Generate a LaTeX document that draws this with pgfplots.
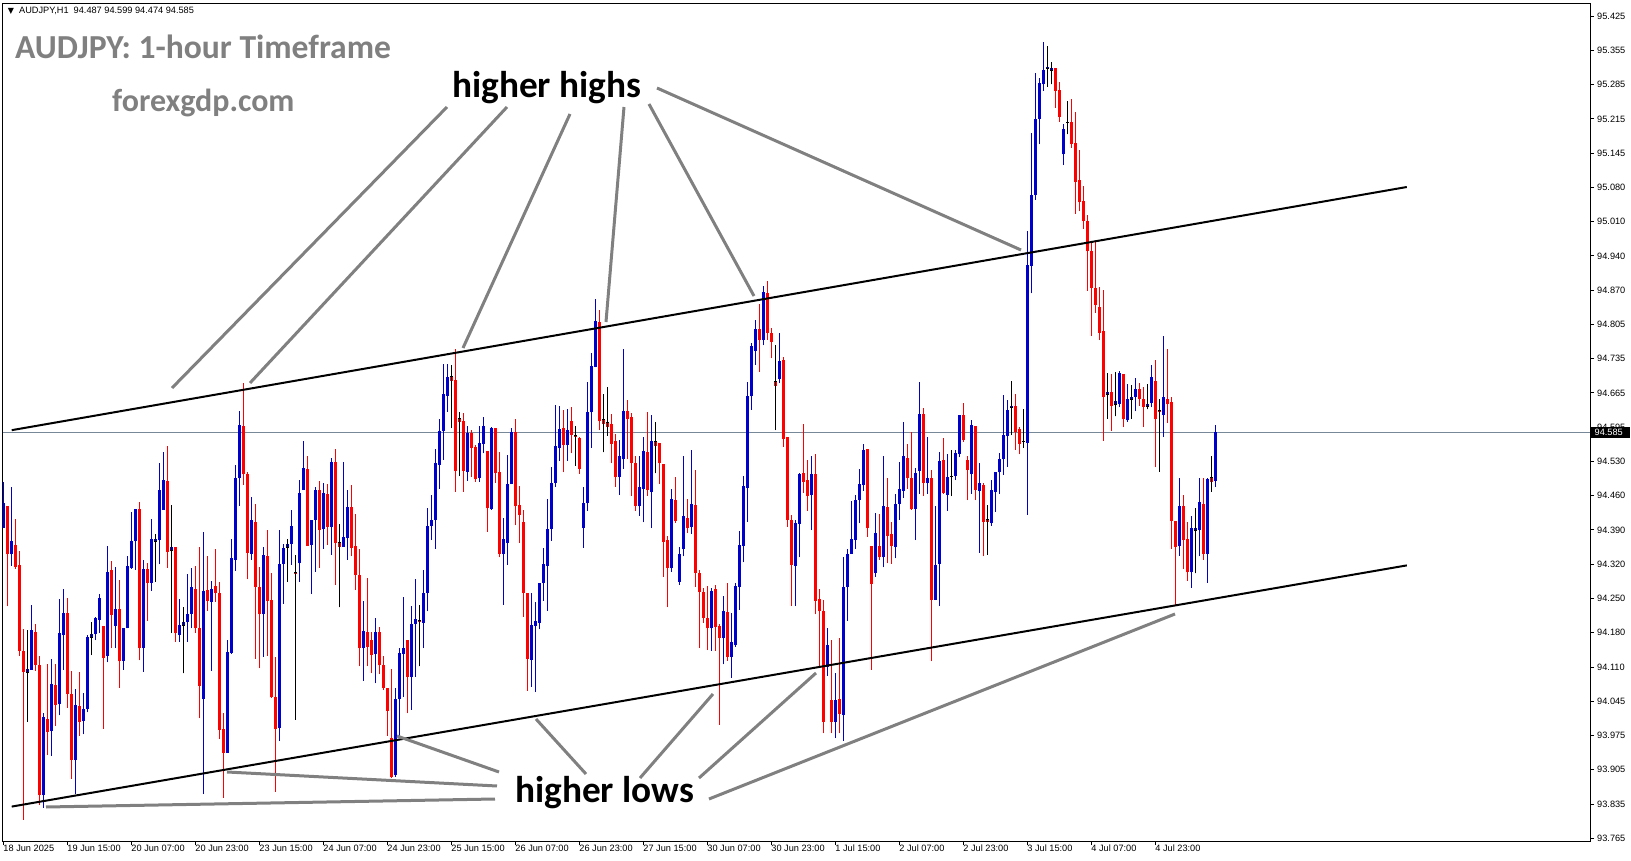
\documentclass[border=0pt]{standalone}
\usepackage{pgfplots}
\pgfplotsset{compat=1.18}
\usepackage{pgfplotstable}
\usepackage{fontspec}
\setmainfont{Liberation Sans}
\newfontfamily\carlito{Carlito}
\newfontfamily\dejavu{DejaVu Sans}
\definecolor{bull}{RGB}{0,0,205}
\definecolor{bear}{RGB}{255,0,0}
\definecolor{note}{RGB}{128,128,128}
\definecolor{askline}{RGB}{119,136,153}

% AUDJPY H1 candles, bar index from 18 Jun 23:00
\pgfplotstableread{
i o h l c
0 94.392 94.485 94.392 94.441
1 94.436 94.436 94.233 94.338
2 94.338 94.474 94.315 94.365
3 94.357 94.410 94.309 94.313
4 94.317 94.345 94.133 94.144
5 94.143 94.188 93.802 94.101
6 94.099 94.186 94.000 94.106
7 94.105 94.236 94.105 94.186
8 94.181 94.198 94.103 94.115
9 94.115 94.133 93.832 93.852
10 93.852 94.017 93.827 94.009
11 94.005 94.117 93.933 93.980
12 93.982 94.126 93.931 94.076
13 94.075 94.117 93.992 94.035
14 94.036 94.248 94.013 94.179
15 94.175 94.268 94.105 94.220
16 94.220 94.250 94.029 94.056
17 94.056 94.103 93.885 93.923
18 93.923 94.066 93.854 94.034
19 94.032 94.100 93.972 94.000
20 94.002 94.058 93.975 94.027
21 94.026 94.176 94.019 94.171
22 94.170 94.201 94.135 94.177
23 94.177 94.212 94.165 94.210
24 94.206 94.258 94.179 94.250
25 94.194 94.194 93.986 94.130
26 94.134 94.355 94.120 94.303
27 94.307 94.325 94.149 94.216
28 94.194 94.313 94.149 94.228
29 94.228 94.287 94.069 94.122
30 94.123 94.190 94.105 94.189
31 94.189 94.334 94.189 94.315
32 94.311 94.424 94.309 94.365
33 94.365 94.430 94.307 94.430
34 94.430 94.444 94.124 94.150
35 94.150 94.327 94.101 94.308
36 94.309 94.320 94.204 94.281
37 94.281 94.410 94.265 94.369
38 94.365 94.379 94.283 94.369
39 94.367 94.522 94.318 94.468
40 94.428 94.544 94.428 94.489
41 94.486 94.558 94.311 94.344
42 94.346 94.438 94.179 94.353
43 94.353 94.353 94.162 94.179
44 94.176 94.248 94.162 94.195
45 94.194 94.231 94.098 94.201
46 94.201 94.299 94.162 94.218
47 94.218 94.310 94.189 94.272
48 94.268 94.315 94.179 94.189
49 94.189 94.354 94.007 94.073
50 94.046 94.383 93.854 94.264
51 94.266 94.334 94.224 94.244
52 94.243 94.285 94.103 94.268
53 94.274 94.350 94.243 94.260
54 94.260 94.283 93.965 93.984
55 93.986 94.017 93.847 93.938
56 93.938 94.165 93.938 94.142
57 94.140 94.369 94.138 94.330
58 94.327 94.519 94.305 94.492
59 94.492 94.628 94.436 94.599
60 94.597 94.685 94.478 94.500
61 94.500 94.504 94.288 94.342
62 94.339 94.455 94.327 94.408
63 94.403 94.439 94.128 94.273
64 94.273 94.313 94.108 94.217
65 94.217 94.354 94.132 94.336
66 94.335 94.387 94.133 94.244
67 94.247 94.300 94.048 94.051
68 94.050 94.132 93.859 93.986
69 93.988 94.387 93.961 94.319
70 94.319 94.360 94.239 94.352
71 94.352 94.369 94.283 94.359
72 94.359 94.428 94.317 94.396
73 94.301 94.337 94.004 94.299
74 94.320 94.488 94.283 94.462
75 94.468 94.567 94.468 94.512
76 94.510 94.536 94.355 94.356
77 94.357 94.408 94.258 94.408
78 94.408 94.475 94.303 94.469
79 94.468 94.486 94.311 94.387
80 94.389 94.482 94.350 94.463
81 94.461 94.480 94.357 94.394
82 94.394 94.532 94.337 94.525
83 94.525 94.552 94.276 94.361
84 94.363 94.400 94.231 94.354
85 94.354 94.525 94.354 94.374
86 94.371 94.468 94.327 94.433
87 94.433 94.478 94.334 94.352
88 94.356 94.419 94.266 94.297
89 94.297 94.350 94.112 94.149
90 94.150 94.244 94.083 94.184
91 94.182 94.290 94.112 94.152
92 94.166 94.182 94.098 94.135
93 94.137 94.209 94.078 94.182
94 94.182 94.192 94.096 94.114
95 94.115 94.133 94.064 94.068
96 94.068 94.069 93.972 94.022
97 93.967 94.107 93.886 93.889
98 93.893 94.068 93.889 94.046
99 94.046 94.149 93.972 94.140
100 94.138 94.253 94.050 94.150
101 94.165 94.165 94.017 94.091
102 94.091 94.233 94.025 94.198
103 94.198 94.289 94.091 94.208
104 94.204 94.236 94.112 94.202
105 94.200 94.307 94.149 94.260
106 94.260 94.431 94.223 94.396
107 94.396 94.458 94.367 94.408
108 94.408 94.552 94.350 94.522
109 94.519 94.612 94.471 94.587
110 94.587 94.723 94.529 94.662
111 94.659 94.723 94.626 94.697
112 94.698 94.721 94.593 94.689
113 94.690 94.752 94.465 94.507
114 94.612 94.625 94.496 94.606
115 94.607 94.623 94.465 94.507
116 94.505 94.598 94.487 94.584
117 94.584 94.589 94.494 94.554
118 94.556 94.559 94.485 94.491
119 94.492 94.598 94.485 94.564
120 94.562 94.616 94.542 94.598
121 94.547 94.547 94.384 94.431
122 94.429 94.596 94.428 94.594
123 94.594 94.594 94.483 94.502
124 94.505 94.544 94.332 94.339
125 94.338 94.411 94.237 94.369
126 94.362 94.539 94.317 94.480
127 94.480 94.594 94.480 94.586
128 94.586 94.612 94.397 94.435
129 94.437 94.476 94.361 94.418
130 94.403 94.427 94.212 94.261
131 94.261 94.261 94.063 94.128
132 94.125 94.260 94.071 94.196
133 94.194 94.243 94.060 94.204
134 94.200 94.280 94.187 94.280
135 94.280 94.352 94.245 94.319
136 94.315 94.450 94.224 94.389
137 94.389 94.515 94.366 94.483
138 94.483 94.640 94.475 94.557
139 94.554 94.638 94.527 94.591
140 94.593 94.630 94.504 94.559
141 94.559 94.631 94.527 94.589
142 94.607 94.636 94.542 94.579
143 94.579 94.598 94.517 94.576
144 94.574 94.576 94.501 94.511
145 94.391 94.475 94.352 94.441
146 94.441 94.686 94.426 94.625
147 94.625 94.744 94.554 94.719
148 94.717 94.854 94.716 94.809
149 94.808 94.832 94.589 94.607
150 94.610 94.663 94.544 94.601
151 94.604 94.677 94.578 94.596
152 94.601 94.621 94.522 94.562
153 94.567 94.581 94.475 94.494
154 94.494 94.569 94.458 94.537
155 94.530 94.752 94.511 94.628
156 94.628 94.650 94.530 94.611
157 94.615 94.623 94.456 94.522
158 94.523 94.537 94.426 94.436
159 94.435 94.536 94.416 94.475
160 94.471 94.576 94.403 94.546
161 94.544 94.625 94.457 94.468
162 94.465 94.620 94.391 94.567
163 94.567 94.606 94.502 94.558
164 94.564 94.564 94.480 94.522
165 94.521 94.521 94.293 94.364
166 94.367 94.376 94.231 94.311
167 94.310 94.471 94.303 94.451
168 94.449 94.494 94.402 94.406
169 94.283 94.354 94.276 94.340
170 94.350 94.537 94.334 94.416
171 94.411 94.451 94.381 94.391
172 94.394 94.549 94.379 94.439
173 94.438 94.509 94.272 94.301
174 94.300 94.307 94.149 94.262
175 94.262 94.271 94.200 94.210
176 94.210 94.274 94.145 94.189
177 94.189 94.270 94.144 94.264
178 94.268 94.276 94.144 94.192
179 94.194 94.197 93.994 94.170
180 94.169 94.255 94.116 94.223
181 94.221 94.281 94.123 94.132
182 94.132 94.219 94.089 94.161
183 94.155 94.281 94.152 94.274
184 94.273 94.386 94.226 94.357
185 94.356 94.496 94.322 94.477
186 94.472 94.687 94.404 94.658
187 94.657 94.766 94.630 94.758
188 94.749 94.811 94.721 94.793
189 94.793 94.844 94.707 94.771
190 94.771 94.880 94.760 94.867
191 94.866 94.890 94.771 94.786
192 94.786 94.796 94.734 94.768
193 94.687 94.761 94.589 94.679
194 94.692 94.786 94.684 94.729
195 94.731 94.737 94.556 94.572
196 94.576 94.576 94.394 94.408
197 94.408 94.418 94.234 94.317
198 94.315 94.408 94.234 94.401
199 94.400 94.502 94.332 94.500
200 94.502 94.601 94.463 94.485
201 94.488 94.529 94.426 94.457
202 94.458 94.536 94.387 94.500
203 94.500 94.540 94.217 94.245
204 94.248 94.268 94.113 94.223
205 94.223 94.246 93.977 94.000
206 94.111 94.189 94.093 94.155
207 94.044 94.165 93.977 94.000
208 94.000 94.098 93.967 94.044
209 94.046 94.169 93.977 94.016
210 94.014 94.332 93.962 94.273
211 94.272 94.350 94.204 94.340
212 94.339 94.445 94.339 94.369
213 94.367 94.458 94.350 94.448
214 94.448 94.511 94.401 94.480
215 94.478 94.562 94.467 94.549
216 94.551 94.551 94.374 94.391
217 94.355 94.355 94.105 94.278
218 94.301 94.421 94.293 94.381
219 94.355 94.420 94.327 94.332
220 94.332 94.536 94.312 94.435
221 94.433 94.492 94.320 94.375
222 94.379 94.404 94.319 94.355
223 94.354 94.461 94.330 94.440
224 94.440 94.525 94.408 94.470
225 94.467 94.605 94.453 94.537
226 94.532 94.562 94.471 94.492
227 94.492 94.586 94.428 94.429
228 94.429 94.512 94.367 94.502
229 94.507 94.686 94.460 94.622
230 94.622 94.633 94.456 94.483
231 94.482 94.576 94.461 94.492
232 94.492 94.509 94.122 94.246
233 94.247 94.435 94.246 94.317
234 94.319 94.544 94.234 94.527
235 94.529 94.573 94.461 94.463
236 94.459 94.540 94.426 94.495
237 94.495 94.549 94.456 94.497
238 94.496 94.548 94.488 94.542
239 94.541 94.620 94.534 94.620
240 94.620 94.643 94.566 94.569
241 94.529 94.537 94.448 94.509
242 94.500 94.610 94.461 94.599
243 94.598 94.598 94.448 94.468
244 94.466 94.522 94.342 94.483
245 94.478 94.482 94.334 94.404
246 94.408 94.437 94.337 94.404
247 94.401 94.488 94.396 94.468
248 94.465 94.505 94.424 94.505
249 94.504 94.542 94.461 94.530
250 94.530 94.661 94.499 94.579
251 94.577 94.650 94.515 94.630
252 94.634 94.688 94.579 94.638
253 94.638 94.663 94.549 94.586
254 94.591 94.596 94.540 94.562
255 94.566 94.632 94.554 94.566
256 94.564 94.991 94.418 94.922
257 94.921 95.190 94.865 95.064
258 95.064 95.310 95.054 95.218
259 95.218 95.301 95.166 95.289
260 95.287 95.372 95.274 95.316
261 95.319 95.364 95.282 95.322
262 95.315 95.332 95.287 95.321
263 95.321 95.321 95.240 95.274
264 95.276 95.292 95.211 95.222
265 95.146 95.207 95.124 95.197
266 95.211 95.254 95.186 95.209
267 95.211 95.258 95.159 95.166
268 95.169 95.232 95.026 95.090
269 95.094 95.155 95.031 95.049
270 95.052 95.082 94.995 95.011
271 95.011 95.023 94.871 94.950
272 94.951 94.968 94.779 94.876
273 94.876 94.968 94.826 94.842
274 94.838 94.879 94.771 94.786
275 94.789 94.872 94.568 94.656
276 94.661 94.705 94.612 94.667
277 94.667 94.703 94.588 94.638
278 94.641 94.706 94.617 94.647
279 94.642 94.708 94.635 94.705
280 94.703 94.703 94.595 94.611
281 94.609 94.683 94.606 94.651
282 94.651 94.681 94.612 94.656
283 94.656 94.695 94.627 94.672
284 94.672 94.685 94.638 94.651
285 94.652 94.676 94.595 94.636
286 94.636 94.683 94.631 94.642
287 94.643 94.721 94.635 94.696
288 94.688 94.731 94.514 94.611
289 94.629 94.651 94.505 94.626
290 94.620 94.779 94.575 94.655
291 94.652 94.753 94.603 94.641
292 94.645 94.655 94.350 94.406
293 94.406 94.406 94.233 94.354
294 94.355 94.492 94.335 94.436
295 94.436 94.459 94.308 94.367
296 94.369 94.404 94.284 94.302
297 94.302 94.416 94.271 94.391
298 94.387 94.431 94.300 94.391
299 94.387 94.492 94.334 94.443
300 94.439 94.493 94.327 94.339
301 94.339 94.492 94.281 94.490
302 94.493 94.537 94.465 94.485
303 94.487 94.599 94.474 94.585
}\candles

\pgfplotsset{
  up/.style={x filter/.expression={\thisrow{c}>\thisrow{o} ? x : nan}},
  down/.style={x filter/.expression={\thisrow{c}<\thisrow{o} ? x : nan}},
  flat/.style={x filter/.expression={\thisrow{c}==\thisrow{o} ? x : nan}},
}

\begin{document}
\begin{tikzpicture}
\useasboundingbox (0,0) rectangle (1631bp,-861bp);
\begin{axis}[
    at={(2.7bp,-3bp)}, anchor=north west,
    scale only axis, width=1587.3bp, height=838bp,
    xmin=-0.15, xmax=396.7,
    ymin=93.7595, ymax=95.4515,
    axis line style={line width=1bp},
    tick style={black, line width=1bp},
    tick align=outside, major tick length=4bp,
    xtick pos=left, ytick pos=right,
    xticklabel pos=left, yticklabel pos=right,
    xtick={0,16,32,48,64,80,96,112,128,144,160,176,192,208,224,240,256,272,288},
    xticklabels={18 Jun 2025,19 Jun 15:00,20 Jun 07:00,20 Jun 23:00,23 Jun 15:00,24 Jun 07:00,24 Jun 23:00,25 Jun 15:00,26 Jun 07:00,26 Jun 23:00,27 Jun 15:00,30 Jun 07:00,30 Jun 23:00,1 Jul 15:00,2 Jul 07:00,2 Jul 23:00,3 Jul 15:00,4 Jul 07:00,4 Jul 23:00},
    ytick={93.7650,93.8342,93.9033,93.9725,94.0417,94.1108,94.1800,94.2492,94.3183,94.3875,94.4567,94.5258,94.5950,94.6642,94.7333,94.8025,94.8717,94.9408,95.0100,95.0792,95.1483,95.2175,95.2867,95.3558,95.4250},
    yticklabels={93.765,93.835,93.905,93.975,94.045,94.110,94.180,94.250,94.320,94.390,94.460,94.530,94.595,94.665,94.735,94.805,94.870,94.940,95.010,95.080,95.145,95.215,95.285,95.355,95.425},
    ticklabel style={font=\fontsize{9.2bp}{11bp}\selectfont, inner sep=0pt},
    xticklabel style={anchor=north west},
    yticklabel style={anchor=west, xshift=3bp},
]
% current price line
\addplot[askline, line width=1bp] coordinates {(-0.15,94.585) (396.7,94.585)};
% wicks and bodies
\addplot[bull, line width=1bp, up, quiver={u=0, v=\thisrow{h}-\thisrow{l}}] table[x=i, y=l]{\candles};
\addplot[bull, line width=3bp, up, quiver={u=0, v=\thisrow{c}-\thisrow{o}}] table[x=i, y=o]{\candles};
\addplot[bear, line width=1bp, down, quiver={u=0, v=\thisrow{h}-\thisrow{l}}] table[x=i, y=l]{\candles};
\addplot[bear, line width=3bp, down, quiver={u=0, v=\thisrow{o}-\thisrow{c}}] table[x=i, y=c]{\candles};
\addplot[black, line width=1bp, flat, quiver={u=0, v=\thisrow{h}-\thisrow{l}}] table[x=i, y=l]{\candles};
\addplot[black, only marks, mark=-, mark size=1.6bp, mark options={line width=1bp}, flat] table[x=i, y=o]{\candles};
% channel lines
\addplot[black, line width=2bp] coordinates {(2.1,94.589) (350.9,95.080)};
\addplot[black, line width=2bp] coordinates {(2.1,93.829) (350.9,94.316)};
\end{axis}

\begin{scope}[x=1bp, y=-1bp]
  % pointer lines
  \begin{scope}[draw=note, line width=3bp]
    \draw (447,107) -- (172,388);
    \draw (507,107) -- (250,383);
    \draw (570,114) -- (463,348);
    \draw (624,107) -- (606,322);
    \draw (649,104) -- (754,296);
    \draw (657,88) -- (1021,250);
    \draw (495,799) -- (46,807);
    \draw (497,786) -- (227,772);
    \draw (499,772) -- (397,736);
    \draw (586,774) -- (536,719);
    \draw (640,778) -- (713,694);
    \draw (699,778) -- (816,673);
    \draw (709,799) -- (1175,614);
  \end{scope}
  \node[anchor=base west, inner sep=0pt, text=note, font=\carlito\bfseries\fontsize{33.6bp}{38bp}\selectfont] at (15,58) {AUDJPY: 1-hour Timeframe};
  \node[anchor=base west, inner sep=0pt, text=note, font=\carlito\bfseries\fontsize{32bp}{36bp}\selectfont] at (112,111) {forexgdp.com};
  \node[anchor=base west, inner sep=0pt, font=\carlito\bfseries\fontsize{37.3bp}{41bp}\selectfont] at (452,97) {higher highs};
  \node[anchor=base west, inner sep=0pt, font=\carlito\bfseries\fontsize{37.3bp}{41bp}\selectfont] at (515,802) {higher lows};
  \node[anchor=center, inner sep=0pt, font=\dejavu\fontsize{8bp}{9bp}\selectfont] at (11,11) {▼};
  \node[anchor=west, inner sep=0pt, font=\fontsize{9.2bp}{11bp}\selectfont] at (19,11) {AUDJPY,H1\ \ 94.487 94.599 94.474 94.585};
  % price label
  \fill[black] (1591,426.5) rectangle (1630,438);
  \node[anchor=west, inner sep=0pt, text=white, font=\fontsize{9.2bp}{11bp}\selectfont] at (1594.5,432.2) {94.585};
\end{scope}
\end{tikzpicture}
\end{document}
